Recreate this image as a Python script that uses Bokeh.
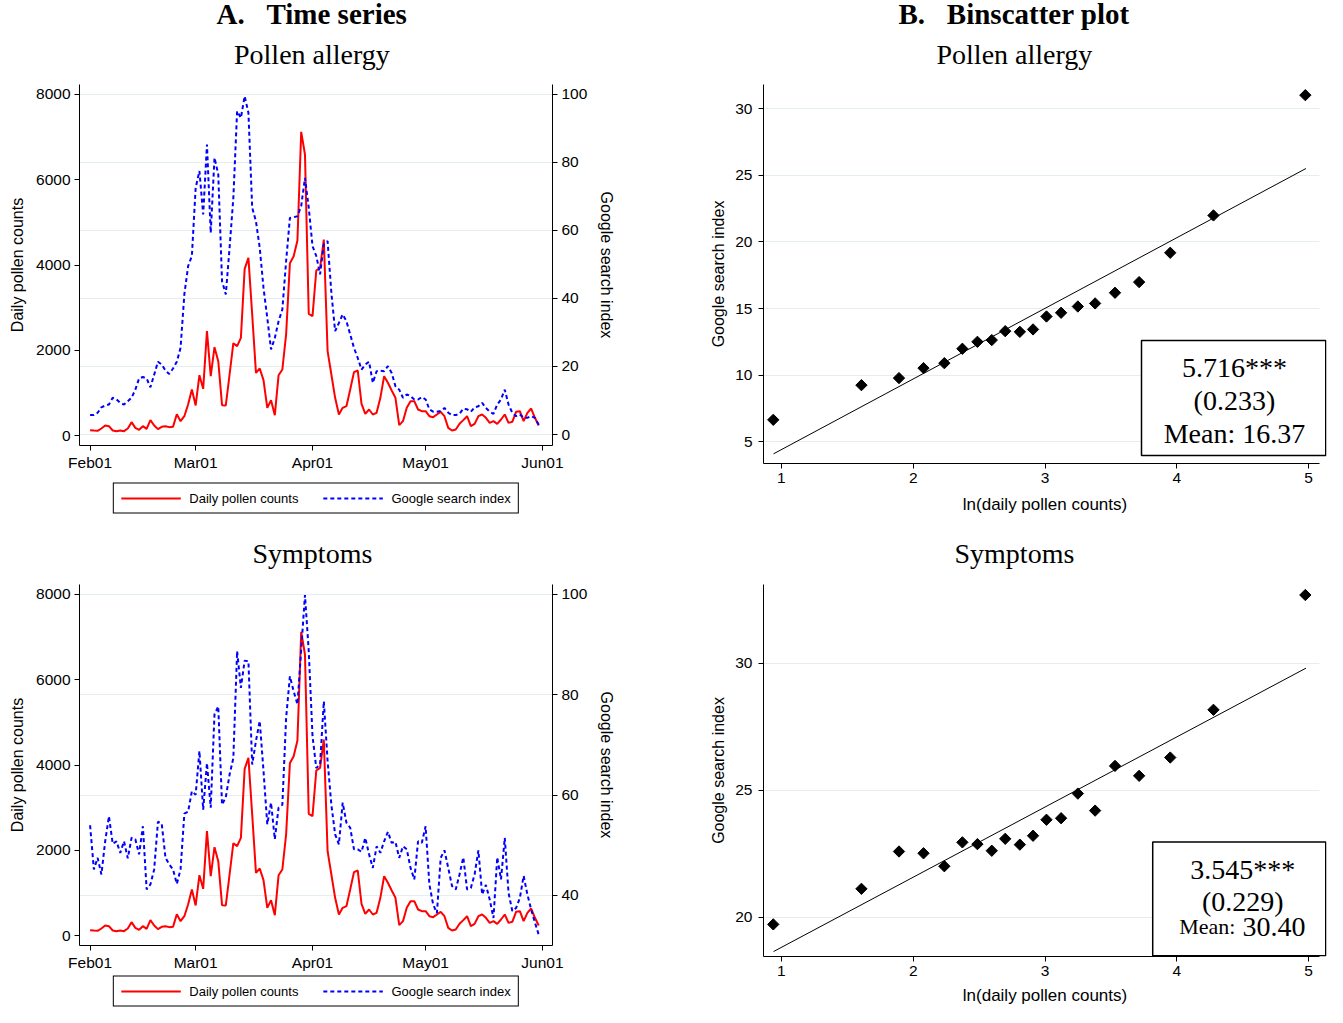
import numpy as np
from bokeh.plotting import figure
from bokeh.models import Range1d, LinearAxis, FixedTicker, Legend, LegendItem, Label, Title
from bokeh.layouts import row, column
from bokeh.embed import file_html
from bokeh.resources import INLINE

# ---- data ----
days = list(range(120))  # days since Feb 1
tick_days = [0, 28, 59, 89, 120]
tick_labels = ["Feb01", "Mar01", "Apr01", "May01", "Jun01"]
pollen_ticks = [0, 2000, 4000, 6000, 8000]

pollen = [125, 117, 110, 164, 235, 219, 117, 102, 117, 102,
          164, 313, 180, 133, 219, 156, 360, 235, 149, 203,
          219, 196, 203, 500, 336, 453, 727, 1079, 704, 1415,
          1095, 2448, 1392, 2072, 1744, 712, 704, 1431, 2166, 2096,
          2291, 3910, 4168, 2839, 1470, 1572, 1298, 649, 829, 477,
          1415, 1548, 2370, 4043, 4207, 4575, 7124, 6592, 2854, 2800,
          3871, 3933, 4598, 1978, 1431, 884, 493, 649, 688, 1079,
          1486, 1525, 743, 508, 610, 493, 532, 884, 1392, 1236,
          1056, 884, 242, 336, 649, 805, 805, 610, 571, 571,
          453, 430, 493, 555, 453, 180, 117, 141, 274, 360,
          453, 219, 274, 453, 493, 415, 297, 336, 274, 375,
          493, 297, 321, 555, 571, 336, 532, 633, 415, 235]

search_allergy = [5.7, 5.7, 6.4, 8.0, 8.5, 8.8, 10.8, 10.3, 9.3, 8.8,
                  9.8, 10.8, 13.2, 16.5, 16.9, 16.5, 13.9, 17.6, 21.4, 20.6,
                  18.8, 17.8, 19.4, 21.4, 25.5, 41.2, 49.5, 52.5, 72.5, 77.5,
                  64.7, 85.3, 59.3, 81.4, 76.5, 45.1, 41.2, 54.9, 69.6, 95.1,
                  93.1, 99.5, 94.6, 66.7, 62.7, 54.9, 43.1, 34.3, 25.0, 28.4,
                  33.3, 36.8, 51.0, 63.7, 63.9, 64.2, 67.2, 75.5, 66.7, 55.4,
                  52.5, 47.1, 55.9, 56.9, 41.7, 30.4, 32.8, 35.3, 33.3, 29.4,
                  25.5, 22.5, 19.1, 20.6, 21.4, 15.2, 18.6, 18.8, 18.6, 20.1,
                  18.1, 14.2, 13.2, 10.8, 11.8, 11.3, 10.3, 10.3, 11.0, 10.3,
                  7.4, 6.7, 6.7, 6.9, 7.8, 6.4, 5.7, 5.7, 6.1, 7.6,
                  7.4, 6.7, 8.0, 8.3, 9.3, 7.8, 6.7, 6.1, 8.8, 10.3,
                  13.2, 8.8, 6.4, 5.4, 5.9, 4.9, 4.9, 5.4, 4.9, 2.9]

search_symptoms = [54.0, 45.2, 47.5, 44.2, 50.8, 55.8, 50.3, 50.8, 48.5, 50.8,
                   47.4, 51.5, 51.2, 48.2, 53.8, 41.2, 42.2, 45.2, 54.7, 54.3,
                   47.5, 46.2, 45.2, 42.3, 45.2, 56.3, 56.7, 60.8, 60.1, 68.8,
                   57.1, 66.4, 57.5, 76.1, 77.7, 58.1, 59.6, 64.1, 67.4, 88.7,
                   81.4, 86.8, 86.7, 66.1, 70.8, 74.8, 64.8, 54.2, 58.5, 51.2,
                   57.5, 58.1, 75.4, 83.7, 80.7, 78.1, 89.0, 99.9, 88.7, 71.8,
                   65.4, 66.1, 78.7, 66.8, 58.1, 52.2, 50.2, 58.5, 54.5, 53.5,
                   49.2, 49.2, 48.7, 51.5, 48.2, 45.5, 49.8, 48.5, 50.8, 52.7,
                   50.5, 50.7, 47.5, 49.8, 49.2, 45.5, 43.2, 50.8, 50.5, 53.8,
                   42.2, 38.2, 36.5, 47.5, 49.0, 45.5, 41.9, 41.2, 44.2, 47.6,
                   41.2, 41.5, 44.2, 49.0, 40.2, 42.1, 39.2, 35.5, 47.6, 43.2,
                   51.5, 40.5, 36.9, 37.5, 39.5, 43.9, 40.2, 37.2, 34.6, 32.2]

bin_x = [0.938, 1.607, 1.892, 2.078, 2.236, 2.373, 2.487, 2.596, 2.698, 2.809,
         2.909, 3.011, 3.122, 3.249, 3.380, 3.531, 3.714, 3.950, 4.278, 4.975]
bin_allergy = [6.65, 9.25, 9.78, 10.53, 10.9, 11.98, 12.5, 12.63, 13.3, 13.25,
               13.43, 14.4, 14.68, 15.15, 15.38, 16.18, 16.98, 19.18, 21.98, 31.0]
bin_symptoms = [19.71, 21.11, 22.58, 22.51, 22.0, 22.94, 22.87, 22.61, 23.08, 22.85,
                23.2, 23.83, 23.89, 24.86, 24.19, 25.95, 25.56, 26.28, 28.16, 32.68]
fit_x = [0.94, 4.98]
fit_allergy = [4.1, 25.5]
fit_symptoms = [18.64, 29.8]

SERIF = "Liberation Serif"
SANS = "Liberation Sans"
GRID = "#e4eef1"
RED = "#ff0000"
BLUE = "#0000ff"


def style_axis(ax, label_size="16px"):
    ax.axis_line_color = "black"
    ax.major_tick_line_color = "black"
    ax.major_tick_out = 5
    ax.major_tick_in = 0
    ax.minor_tick_line_color = None
    ax.major_label_text_font = SANS
    ax.major_label_text_font_size = "15.5px"
    ax.major_label_text_color = "black"
    ax.major_label_standoff = 4
    ax.axis_label_text_font = SANS
    ax.axis_label_text_font_size = label_size
    ax.axis_label_text_font_style = "normal"
    ax.axis_label_text_color = "black"


def add_titles(p, main, sub, main_off, sub_off):
    # p.title is the outermost line; the added Title sits next to the frame
    p.title.text = main
    p.title.text_font = SERIF
    p.title.text_color = "black"
    p.title.align = "left"
    p.title.offset = main_off
    if sub is None:
        p.title.text_font_size = "28px"
        p.title.text_font_style = "normal"
        p.title.standoff = 32
        return
    p.title.text_font_size = "29px"
    p.title.text_font_style = "bold"
    try:
        p.title.standoff = -14
    except ValueError:
        p.title.standoff = 0
    p.add_layout(Title(text=sub, align="left", offset=sub_off, standoff=29,
                       text_font=SERIF, text_font_size="28px", text_color="black",
                       text_font_style="normal"), "above")


def time_series(search, s_range, s_ticks, height, top, bottom, titles):
    p = figure(width=660, height=height,
               x_range=Range1d(-2.81, 122.66), y_range=Range1d(*s_range),
               y_axis_location="right", output_backend="svg", toolbar_location=None,
               min_border_left=79, min_border_right=108,
               min_border_top=top, min_border_bottom=bottom)
    p.outline_line_color = None
    p.xgrid.grid_line_color = None
    p.ygrid.grid_line_color = GRID

    right = p.yaxis[0]
    right.ticker = FixedTicker(ticks=s_ticks)
    style_axis(right)
    right.axis_label = "Google search index"
    right.axis_label_standoff = 8

    p.extra_y_ranges = {"pollen": Range1d(-234.6, 8234.6)}
    left = LinearAxis(y_range_name="pollen", ticker=FixedTicker(ticks=pollen_ticks),
                      axis_label="Daily pollen counts")
    style_axis(left)
    left.axis_label_standoff = 7
    p.add_layout(left, "left")

    xa = p.xaxis[0]
    xa.ticker = FixedTicker(ticks=tick_days)
    xa.major_label_overrides = dict(zip(tick_days, tick_labels))
    style_axis(xa)
    xa.major_label_standoff = 3

    p.line(days, pollen, y_range_name="pollen", color=RED, line_width=2)
    p.line(days, search, color=BLUE, line_width=2, line_dash="4 3")
    add_titles(p, *titles)
    return p


def legend_strip(height):
    # a thin plot holding only the legend box, stacked under a time series
    p = figure(width=660, height=height, x_range=Range1d(0, 1), y_range=Range1d(0, 1),
               x_axis_location=None, y_axis_location=None,
               output_backend="svg", toolbar_location=None,
               min_border_left=79, min_border_right=108, min_border_top=0, min_border_bottom=0)
    p.outline_line_color = None
    p.xgrid.visible = False
    p.ygrid.visible = False
    # swatch-only renderers: one NaN point each, so nothing is drawn in the frame
    r1 = p.line([np.nan], [np.nan], color=RED, line_width=2)
    r2 = p.line([np.nan], [np.nan], color=BLUE, line_width=2, line_dash="4 3")
    legend = Legend(items=[LegendItem(label="Daily pollen counts", renderers=[r1]),
                           LegendItem(label="Google search index", renderers=[r2])],
                    orientation="horizontal", location="center", margin=0,
                    padding=7, spacing=24, glyph_width=60, glyph_height=15,
                    label_height=15, label_standoff=9,
                    label_text_font=SANS, label_text_font_size="13px",
                    label_text_color="black",
                    border_line_color="black", border_line_alpha=1.0, border_line_width=1)
    p.add_layout(legend)
    return p


def binscatter(ys, fit_y, y_range, y_ticks, height, top, bottom, box, lines, titles, lab_standoff):
    p = figure(width=667, height=height,
               x_range=Range1d(0.864, 5.1356), y_range=Range1d(*y_range),
               output_backend="svg", toolbar_location=None,
               min_border_left=103, min_border_right=1,
               min_border_top=top, min_border_bottom=bottom)
    p.outline_line_color = None
    p.xgrid.grid_line_color = None
    p.ygrid.grid_line_color = GRID
    if "cross_bounds" in p.ygrid[0].properties():
        p.ygrid.cross_bounds = (0.864, 5.084)

    xa = p.xaxis[0]
    xa.ticker = FixedTicker(ticks=[1, 2, 3, 4, 5])
    xa.bounds = (0.864, 5.084)
    xa.axis_label = "ln(daily pollen counts)"
    style_axis(xa, "17px")
    xa.major_label_standoff = 4
    xa.axis_label_standoff = lab_standoff

    ya = p.yaxis[0]
    ya.ticker = FixedTicker(ticks=y_ticks)
    ya.axis_label = "Google search index"
    style_axis(ya)
    ya.major_label_standoff = 6
    ya.axis_label_standoff = 5

    p.line(fit_x, fit_y, color="black", line_width=1)
    p.scatter(bin_x, ys, marker="square", angle=np.pi / 4, size=8, color="black")

    p.quad(left=[box[0]], right=[box[1]], bottom=[box[2]], top=[box[3]],
           fill_color="white", line_color="black", line_width=1.5)
    for (x, y, text, size, align) in lines:
        p.add_layout(Label(x=x, y=y, text=text, text_align=align, text_baseline="middle",
                           text_font=SERIF, text_font_size=size, text_color="black"))
    add_titles(p, *titles)
    return p


ts1 = time_series(search_allergy, (-3.235, 102.94), [0, 20, 40, 60, 80, 100],
                  476, 84, 31,
                  ("A.\u00a0\u00a0\u00a0Time series", "Pollen allergy", 137, 154.5))
leg1 = legend_strip(43)
ts2 = time_series(search_symptoms, (30.03, 101.99), [40, 60, 80, 100],
                  455, 65, 29,
                  ("Symptoms", None, 173, 0))
leg2 = legend_strip(33)
bs1 = binscatter(bin_allergy, fit_allergy, (3.375, 31.8), [5, 10, 15, 20, 25, 30],
                 519, 84, 56, (3.732, 5.13, 3.975, 12.6),
                 [(4.437, 10.575, "5.716***", "28px", "center"),
                  (4.437, 8.10, "(0.233)", "28px", "center"),
                  (4.437, 5.625, "Mean: 16.37", "28px", "center")],
                 ("B.\u00a0\u00a0\u00a0Binscatter plot", "Pollen allergy", 135, 173), 9)
bs2 = binscatter(bin_symptoms, fit_symptoms, (18.445, 33.094), [20, 25, 30],
                 488, 65, 49, (3.817, 5.13, 18.47, 22.95),
                 [(4.50, 21.865, "3.545***", "28px", "center"),
                  (4.50, 20.627, "(0.229)", "28px", "center"),
                  (4.445, 19.62, "Mean:", "22px", "right"),
                  (4.498, 19.62, "30.40", "28px", "left")],
                 ("Symptoms", None, 191, 0), 7)

page = row(column(ts1, leg1, ts2, leg2), column(bs1, bs2))
open("out.html", "w").write(file_html(page, INLINE))
